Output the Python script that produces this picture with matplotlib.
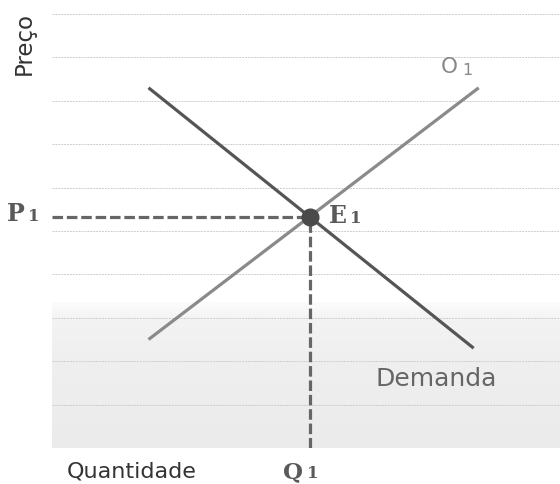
import matplotlib
matplotlib.use("Agg")
import matplotlib.pyplot as plt
import numpy as np
from matplotlib.colors import LinearSegmentedColormap

# Data (axes units: x 0..10, y 0..10)
demand_x = [1.9, 8.3]
demand_y = [8.3, 2.3]
supply_x = [1.9, 8.4]
supply_y = [2.5, 8.3]
grid_levels = [1, 2, 3, 4, 5, 6, 7, 8, 9, 10]
shade_top = 3.36

def intersect(ax_, ay_, bx_, by_):
    m1 = (ay_[1] - ay_[0]) / (ax_[1] - ax_[0])
    m2 = (by_[1] - by_[0]) / (bx_[1] - bx_[0])
    x = (by_[0] - ay_[0] + m1 * ax_[0] - m2 * bx_[0]) / (m1 - m2)
    return x, ay_[0] + m1 * (x - ax_[0])

eq_x, eq_y = intersect(demand_x, demand_y, supply_x, supply_y)

W, H = 560, 484
fig = plt.figure(figsize=(W/100, H/100), dpi=100)
ax = fig.add_axes([52/W, 36/H, 508/W, 434/H])
ax.set_xlim(0, 10)
ax.set_ylim(0, 10)
ax.axis("off")

def fx(px):
    return px / W

def fy(py):
    return 1 - py / H

# shaded band
grad = np.linspace(0, 1, 300).reshape(-1, 1)
cmap = LinearSegmentedColormap.from_list(
    "g", [(0, "#ebebeb"), (0.6, "#efefef"), (0.88, "#f3f3f3"), (1, "#fcfcfc")])
ax.imshow(grad, extent=[0, 10, 0, shade_top], origin="lower", cmap=cmap,
          aspect="auto", zorder=0, vmin=0, vmax=1)

for g in grid_levels:
    ax.axhline(g, color="#cdcdcd", lw=0.7, ls=(0, (2, 1)), zorder=1, clip_on=False)

ax.plot(demand_x, demand_y, color="#555555", lw=2.3, solid_capstyle="butt", zorder=3)
ax.plot(supply_x, supply_y, color="#8a8a8a", lw=2.3, solid_capstyle="butt", zorder=3)

dash = (0, (3.3, 1.2))
ax.plot([0, eq_x], [eq_y, eq_y], color="#666666", lw=2.3, ls=dash, zorder=2)
ax.plot([eq_x, eq_x], [0, eq_y], color="#666666", lw=2.3, ls=dash, zorder=2)
ax.plot([eq_x], [eq_y], "o", color="#4a4a4a", ms=12, zorder=4)

serif = "DejaVu Serif"
bold_col = "#5a5a5a"

def sub_label(x_main, x_sub, base, main, size_main=17, size_sub=12):
    fig.text(fx(x_main), fy(base), main, fontsize=size_main, fontweight="bold",
             family=serif, color=bold_col, va="baseline", ha="left")
    fig.text(fx(x_sub), fy(base), "1", fontsize=size_sub, fontweight="bold",
             family=serif, color=bold_col, va="baseline", ha="left")

sub_label(7, 28, 221, "P")
sub_label(329, 350, 223, "E")
sub_label(283, 307, 478, "Q", size_main=16.5)

fig.text(fx(131.5), fy(478), "Quantidade", fontsize=16, color="#333333",
         va="baseline", ha="center")
fig.text(fx(24), fy(43.5), "Preço", fontsize=16.5, color="#333333",
         va="center", ha="center", rotation=90)
fig.text(fx(436.5), fy(386), "Demanda", fontsize=18, color="#666666",
         va="baseline", ha="center")
fig.text(fx(441), fy(73), "O", fontsize=15.5, color="#888888",
         va="baseline", ha="left")
fig.text(fx(462), fy(75), "1", fontsize=11.5, color="#888888",
         va="baseline", ha="left")

fig.savefig("out.png", dpi=100)
